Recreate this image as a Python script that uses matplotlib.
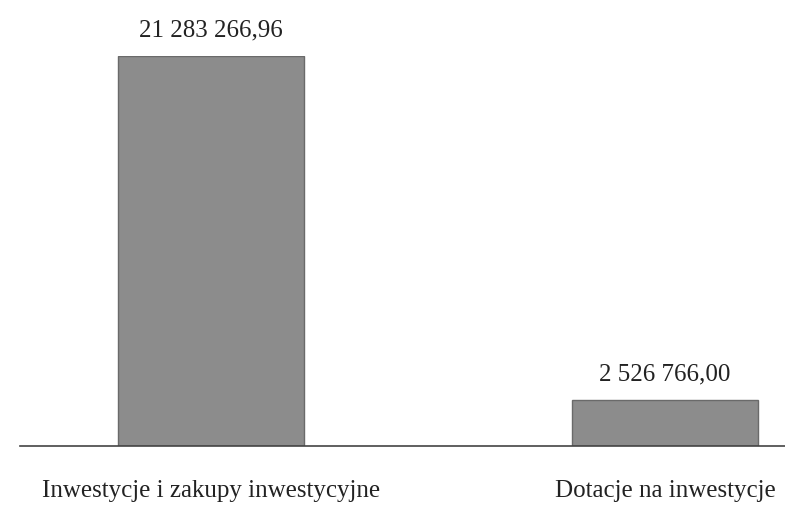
import matplotlib
matplotlib.use("Agg")
import matplotlib.pyplot as plt

categories = ["Inwestycje i zakupy inwestycyjne", "Dotacje na inwestycje"]
values = [21283266.96, 2526766.00]
value_labels = ["21 283 266,96", "2 526 766,00"]

plt.rcParams['font.family'] = ['Liberation Serif', 'DejaVu Serif']

W, H = 785, 506
fig = plt.figure(figsize=(W / 100, H / 100), dpi=100)
fig.patch.set_facecolor("white")
ax = fig.add_axes([20 / W, 59 / H, 765 / W, (447 - 57) / H])

x = [0, 1]
ax.bar(x, values, width=0.41, color="#8c8c8c", edgecolor="#6a6a6a", linewidth=1)
ax.set_xlim(-191 / 454, (765 - 191) / 454)
ax.set_ylim(0, max(values))

for xi, v, lab in zip(x, values, value_labels):
    ax.annotate(lab, (xi, v), xytext=(0, 11), textcoords="offset points",
                ha="center", va="bottom", fontsize=18, color="#222222", annotation_clip=False)

ax.set_xticks(x)
ax.set_xticklabels(categories, fontsize=18, color="#222222")
ax.tick_params(axis="x", length=0, pad=24)
ax.set_yticks([])
for s in ["top", "right", "left"]:
    ax.spines[s].set_visible(False)
ax.spines["bottom"].set_color("#444444")
ax.spines["bottom"].set_linewidth(1.2)

fig.savefig("out.png", dpi=100)
